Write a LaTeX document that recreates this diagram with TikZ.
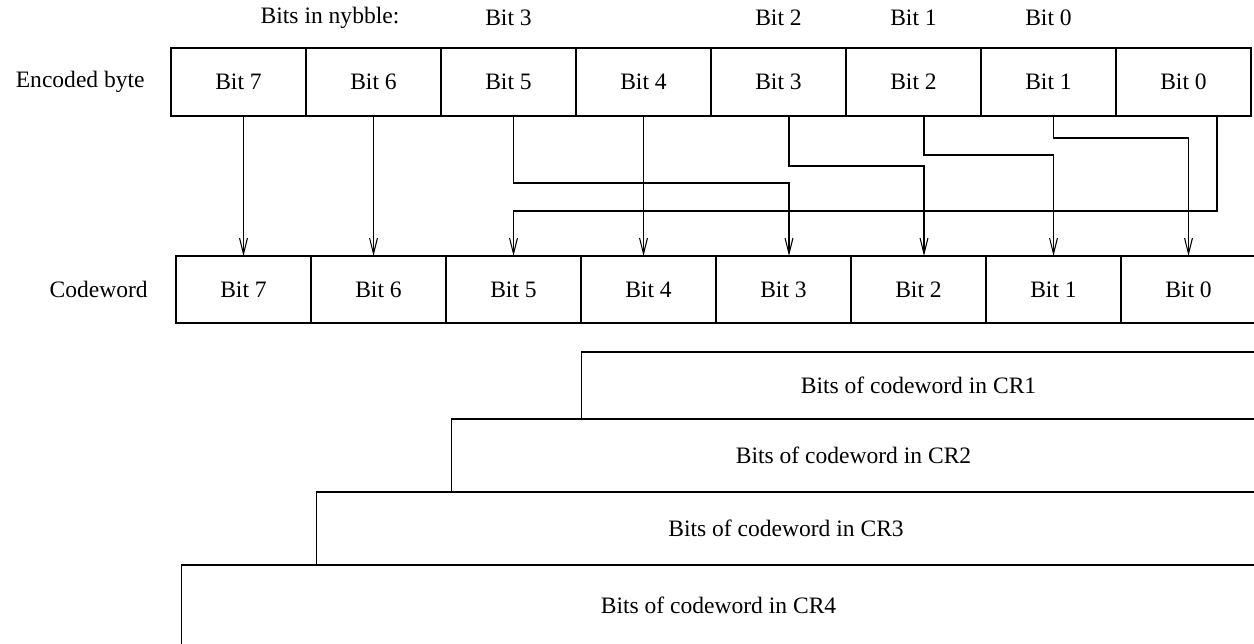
\documentclass[tikz,border=0pt]{standalone}
\usepackage{fontspec}
\setmainfont{Liberation Serif}
\usepackage {tikz}
\usetikzlibrary {positioning}
\usetikzlibrary{arrows.meta,calc}

\begin{document}
\begin{tikzpicture}[x=0.02cm ,y=-0.02cm ,node distance =0.4cm ,
semithick ,
font=\fontsize{13.4}{16}\selectfont ,
bitcell/.style ={ rectangle ,draw ,inner sep =0pt ,outer sep =0pt ,
minimum width =2.7cm},
crbox/.style ={ rectangle ,draw ,inner sep =0pt ,outer sep =0pt},
wire/.style ={ -{Straight Barb[length=9pt,width=4.5pt]}}]

\useasboundingbox (0,0) rectangle (1254,643);
\clip (0,0) rectangle (1254,643);

% encoded byte
\node[bitcell ,minimum height =1.36cm] (e7) at (238.5,82) {Bit 7};
\node[bitcell ,minimum height =1.36cm] (e6) at (373.5,82) {Bit 6};
\node[bitcell ,minimum height =1.36cm] (e5) at (508.5,82) {Bit 5};
\node[bitcell ,minimum height =1.36cm] (e4) at (643.5,82) {Bit 4};
\node[bitcell ,minimum height =1.36cm] (e3) at (778.5,82) {Bit 3};
\node[bitcell ,minimum height =1.36cm] (e2) at (913.5,82) {Bit 2};
\node[bitcell ,minimum height =1.36cm] (e1) at (1048.5,82) {Bit 1};
\node[bitcell ,minimum height =1.36cm] (e0) at (1183.5,82) {Bit 0};

% codeword
\node[bitcell ,minimum height =1.34cm] (c7) at (243.5,289.5) {Bit 7};
\node[bitcell ,minimum height =1.34cm] (c6) at (378.5,289.5) {Bit 6};
\node[bitcell ,minimum height =1.34cm] (c5) at (513.5,289.5) {Bit 5};
\node[bitcell ,minimum height =1.34cm] (c4) at (648.5,289.5) {Bit 4};
\node[bitcell ,minimum height =1.34cm] (c3) at (783.5,289.5) {Bit 3};
\node[bitcell ,minimum height =1.34cm] (c2) at (918.5,289.5) {Bit 2};
\node[bitcell ,minimum height =1.34cm] (c1) at (1053.5,289.5) {Bit 1};
\node[bitcell ,minimum height =1.34cm] (c0) at (1188.5,289.5) {Bit 0};

\node[left =of e7] (enclabel) {Encoded byte};
\node[left =0.44cm of c7] (cwlabel) {Codeword};

\node (nybble) at (330,18) {Bits in nybble:};
\node (n3) at (e5.north |- nybble) {Bit 3};
\node (n2) at (e3.north |- nybble) {Bit 2};
\node (n1) at (e2.north |- nybble) {Bit 1};
\node (n0) at (e1.north |- nybble) {Bit 0};

% wiring
\draw[wire] (e7.south -| c7.north) -- (c7.north);
\draw[wire] (e6.south) -- (e6.south |- c6.north);
\draw[wire] (e4.south) -- (e4.south |- c4.north);
\draw[wire] (e5.south -| c5.north) -- ++(0,67) -| ($(c3.north)+(5.5,0)$);
\draw[wire] ($(e3.south)+(10.5,0)$) -- ++(0,50) -| ($(c2.north)+(5.5,0)$);
\draw[wire] ($(e2.south)+(10.5,0)$) -- ++(0,39) -| (c1.north);
\draw[wire] (e1.south -| c1.north) -- ++(0,22) -| (c0.north);
\draw[wire] ($(e0.south)+(33.5,0)$) -- ++(0,95) -| (c5.north);

% coding rates
\node[crbox ,minimum width =13.5cm ,minimum height =1.34cm] (cr1) at (918.5,385.5) {Bits of codeword in CR1};
\node[crbox ,minimum width =16.1cm ,minimum height =1.46cm] (cr2) at (853.5,455.5) {Bits of codeword in CR2};
\node[crbox ,minimum width =18.8cm ,minimum height =1.46cm] (cr3) at (786,528.5) {Bits of codeword in CR3};
\node[crbox ,minimum width =21.5cm ,minimum height =1.62cm] (cr4) at (718.5,605.5) {Bits of codeword in CR4};

\end{tikzpicture}
\end{document}
